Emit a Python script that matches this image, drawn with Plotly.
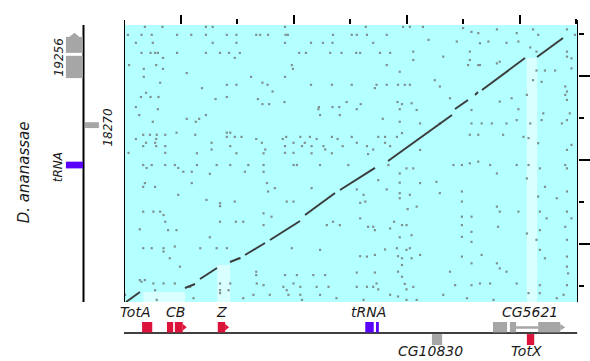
import plotly.graph_objects as go

# ---------------- data ----------------
# x: D. melanogaster region (kb), y: D. ananassae region (kb)
x_major_ticks = [1, 3, 5, 7]
x_minor_ticks = [2, 4, 6, 8]
y_major_ticks = [1, 3, 5]
y_minor_ticks = [0, 2, 4, 6]
x_range = [0, 8.035]
y_range = [-0.381, 6.214]

# diagonal match segments (start x, start y, end x, end y)
diag_segments = [
    (0.035, -0.381, 0.283, -0.143),
    (1.080, -0.048, 1.257, 0.048),
    (1.345, 0.167, 1.646, 0.429),
    (1.876, 0.571, 2.053, 0.667),
    (2.142, 0.738, 2.496, 1.024),
    (2.584, 1.095, 3.115, 1.548),
    (3.204, 1.690, 3.735, 2.214),
    (3.823, 2.286, 4.442, 2.810),
    (4.673, 2.976, 5.805, 4.071),
    (5.858, 4.214, 6.088, 4.429),
    (6.212, 4.548, 6.265, 4.619),
    (6.336, 4.667, 7.097, 5.429),
    (7.310, 5.452, 7.770, 5.905),
]

# scattered short matches (x, y)
noise_dots = [
    (0.37,6.17),(0.68,6.17),(1.45,6.17),(1.57,6.17),(2.85,6.17),(4.28,6.17),(4.94,6.17),
    (0.07,5.98),(0.31,5.98),(0.49,5.98),(0.94,5.98),(1.19,5.98),(1.45,5.98),(1.82,5.98),(1.99,5.98),
    (2.34,5.98),(2.41,5.98),(2.55,5.98),(2.86,5.98),(2.90,5.98),(3.70,5.98),(4.03,5.98),(4.12,5.98),
    (4.30,5.98),(4.65,5.98),
    (0.21,5.79),(0.51,5.79),(1.57,5.79),(1.99,5.79),(2.85,5.79),(3.31,5.79),(3.52,5.79),(3.69,5.79),(4.41,5.79),
    (0.31,5.55),(0.47,5.55),(0.55,5.55),(0.60,5.55),(0.94,5.55),(1.45,5.55),(1.70,5.55),(1.86,5.55),
    (2.05,5.55),(3.10,5.55),(3.22,5.55),(3.65,5.55),(3.85,5.55),(4.11,5.55),(4.18,5.55),(4.53,5.55),(4.71,5.55),
    (0.69,5.43),(1.96,5.43),
    (0.09,5.26),(0.57,5.26),(2.97,5.26),(4.65,5.26),
    (0.35,5.17),(0.69,5.17),(2.99,5.17),
    (1.11,5.07),
    (0.35,4.98),(2.25,4.98),(2.85,4.98),
    (0.64,4.84),(2.45,4.84),
    (1.82,4.79),(1.99,4.79),(2.54,4.79),(3.31,4.79),(3.68,4.79),(4.03,4.79),(4.47,4.79),(4.65,4.79),(4.85,4.79),
    (1.38,4.71),(4.44,4.71),
    (2.63,4.63),(0.39,4.60),
    (0.30,4.50),(0.47,4.50),(0.61,4.50),(1.82,4.50),
    (1.62,4.45),(2.37,4.45),
    (2.84,4.38),(3.94,4.38),(4.84,4.38),
    (2.45,4.33),(2.57,4.33),(4.19,4.33),(4.92,4.33),
    (0.21,4.26),(3.45,4.26),(3.69,4.26),(3.81,4.26),
    (0.60,4.21),(3.44,4.21),(4.12,4.21),(4.88,4.21),
    (0.27,4.07),(1.45,4.07),(3.47,4.07),(3.82,4.07),
    (1.11,3.98),(1.33,3.98),(4.58,3.98),
    (0.51,3.91),(1.27,3.91),
    (0.93,3.65),(1.82,3.65),(1.88,3.65),
    (0.34,3.60),(0.46,3.60),(0.58,3.60),(0.73,3.60),(1.26,3.60),
    (1.82,3.55),(1.96,3.55),(2.08,3.55),(2.87,3.55),(3.12,3.55),(3.29,3.55),(3.68,3.55),(4.03,3.55),
    (4.50,3.55),(4.62,3.55),(4.83,3.55),
    (0.21,3.50),(0.57,3.50),(2.34,3.50),(2.81,3.50),(3.41,3.50),(3.78,3.50),
    (0.39,3.41),(0.55,3.41),(1.55,3.41),(2.44,3.41),(3.00,3.41),(3.20,3.41),(4.12,3.41),(4.62,3.41),
    (0.34,3.33),(0.57,3.33),(0.73,3.33),(1.88,3.33),(2.85,3.33),(3.15,3.33),(3.32,3.33),(3.53,3.33),
    (3.87,3.33),(4.30,3.33),(4.71,3.33),
    (1.55,3.25),(2.50,3.25),(3.56,3.25),(4.41,3.25),
    (0.08,3.17),(0.73,3.17),(1.29,3.16),(1.99,3.16),(2.47,3.16),(2.85,3.17),(3.00,3.17),(3.32,3.16),(3.68,3.16),
    (0.34,2.88),(0.49,2.88),(0.73,2.88),(0.90,2.88),(1.29,2.88),(1.64,2.88),(1.88,2.88),(2.20,2.88),
    (2.47,2.88),(3.00,2.88),(3.06,2.88),(3.47,2.88),(3.97,2.88),
    (0.40,2.81),(0.96,2.81),
    (1.05,2.72),(1.20,2.72),(2.14,2.72),(2.47,2.72),
    (1.52,2.67),
    (0.37,2.45),(1.20,2.45),(2.53,2.45),
    (0.34,2.36),(0.55,2.36),
    (2.67,2.33),(3.32,2.33),
    (2.55,2.25),(0.96,2.17),(1.46,2.05),
    (1.96,2.01),(2.88,2.01),(3.00,2.01),
    (1.70,1.97),(1.70,1.90),
    (0.34,1.77),(0.52,1.77),(0.64,1.77),
    (2.47,1.73),(0.70,1.69),(2.61,1.65),
    (0.73,1.53),(1.70,1.53),(1.98,1.53),(2.11,1.53),(3.70,1.53),
    (2.47,1.45),(3.59,1.45),(3.82,1.45),
    (0.28,1.35),(0.78,1.33),(0.93,1.33),
    (1.52,1.16),(0.90,0.94),
    (0.34,0.90),(0.49,0.90),(0.70,0.90),(1.35,0.90),(1.64,0.90),(1.82,0.90),(2.97,0.90),
    (3.47,0.86),(0.70,0.82),
    (0.81,0.66),(2.05,0.66),
    (0.99,0.46),(2.34,0.34),
    (2.34,0.26),(2.85,0.26),(3.06,0.26),(3.35,0.26),(3.56,0.26),
    (0.28,0.14),(0.37,0.14),(0.31,0.10),
    (0.52,0.06),(0.70,0.06),(0.90,0.06),(1.70,0.06),(1.88,0.06),(2.35,0.06),(3.00,0.06),
    (2.47,0.02),(1.17,-0.02),
    (2.82,-0.02),(3.12,-0.02),(3.41,-0.02),(3.62,-0.02),(4.12,-0.02),(4.30,-0.02),
    (0.55,-0.10),(1.70,-0.10),(1.85,-0.10),(2.88,-0.10),
    (0.02,-0.21),(2.29,-0.21),(2.91,-0.21),(3.12,-0.21),
    (0.58,-0.33),(1.23,-0.29),(1.70,-0.17),(2.11,-0.29),(2.58,-0.21),(3.15,-0.33),(3.47,-0.21),
    (3.76,-0.29),(4.24,-0.33),(4.71,-0.21),(5.18,-0.33),(5.65,-0.21),(6.07,-0.29),(6.54,-0.33),
    (7.16,-0.17),(7.36,-0.17),(7.66,-0.29),(7.78,-0.21),
    (4.32,3.14),(4.68,2.88),(4.50,2.52),(4.12,2.30),(4.65,2.30),(4.24,2.17),(4.18,1.98),(4.27,2.01),
    (5.02,1.83),(4.88,2.68),(4.88,2.46),(4.88,2.21),(4.88,2.09),(5.06,2.17),(4.18,1.61),(4.32,1.41),
    (4.41,1.41),(4.44,1.33),(4.71,1.37),(4.78,1.53),(4.92,1.45),(5.00,1.45),(4.88,1.16),(5.09,1.21),
    (4.62,0.87),(4.83,0.90),(5.00,0.86),(5.06,0.90),(4.18,0.71),(4.30,0.70),(4.44,0.74),(4.85,0.71),
    (4.92,0.66),(5.09,0.66),(4.92,0.50),(4.12,0.32),(4.44,0.32),(4.85,0.34),(4.92,0.22),(4.47,0.06),
    (4.41,-0.02),(4.50,-0.08),(4.97,0.05),(5.12,-0.02),(5.00,-0.08),(4.85,-0.25),(5.00,-0.33),
    (5.06,6.17),(5.29,6.17),(6.00,6.14),(6.60,6.11),(7.24,6.11),(7.84,6.11),(6.15,6.05),(6.27,6.02),
    (6.95,6.02),(7.33,5.98),(7.98,5.98),
    (5.39,5.86),(5.89,5.82),(6.45,5.82),(6.98,5.82),(6.77,5.79),(6.30,5.78),(7.19,5.68),
    (5.12,5.58),(6.12,5.58),(7.30,5.58),(7.84,5.58),(5.65,5.46),(7.84,5.46),(7.92,5.42),
    (5.12,5.38),(6.12,5.38),(6.65,5.34),(6.60,5.30),(6.09,5.26),(6.27,5.26),(6.30,5.26),
    (7.92,5.18),(7.30,5.13),(7.45,5.13),(7.63,5.13),(4.88,5.10),
    (5.50,4.90),(7.24,4.90),(7.39,4.86),(4.97,4.79),(5.06,4.79),(5.59,4.75),(7.81,4.75),
    (7.84,4.63),(7.13,4.55),(7.81,4.55),(5.77,4.47),(6.86,4.47),(7.84,4.43),(6.65,4.39),
    (5.09,4.35),(6.98,4.21),(5.18,4.19),(6.15,4.19),(7.42,4.11),(7.89,4.11),
    (6.95,3.95),(7.39,3.95),(7.84,3.95),(4.88,3.91),
    (5.24,3.87),(5.59,3.87),(6.15,3.87),(6.33,3.87),(6.51,3.87),(6.77,3.87),(7.19,3.87),(7.75,3.87),
    (4.92,3.64),(6.12,3.60),(6.27,3.60),(6.71,3.60),(7.07,3.55),(7.16,3.52),(7.33,3.40),(7.92,3.36),
    (5.24,3.24),(7.84,3.24),(6.27,2.96),(6.12,2.92),
    (5.83,2.88),(5.98,2.88),(6.48,2.88),(6.95,2.88),(7.16,2.88),(7.81,2.88),
    (5.00,2.80),(5.12,2.80),(7.36,2.80),(7.84,2.80),
    (6.60,2.68),(7.13,2.56),(5.53,2.48),(5.24,2.45),(7.45,2.36),
    (5.98,2.25),(7.84,2.25),(5.59,2.21),(7.33,2.13),(7.66,2.09),(5.98,2.01),
    (5.18,1.89),(6.60,1.89),(6.65,1.77),(6.98,1.77),(7.36,1.77),(7.84,1.77),
    (5.98,1.65),(6.15,1.65),(7.48,1.61),(7.92,1.61),
    (5.98,1.45),(6.62,1.41),(7.81,1.41),(7.36,1.33),(6.15,1.29),(7.13,1.25),(5.98,1.17),
    (7.30,1.10),(7.84,1.10),(6.15,1.05),(7.36,0.86),(5.24,0.74),(6.33,0.74),(5.98,0.70),(7.84,0.70),
    (7.45,0.66),(6.15,0.54),(6.60,0.54),(7.84,0.46),(6.65,0.42),(5.77,0.34),(6.77,0.34),(7.86,0.30),
    (6.30,0.06),(6.48,0.06),(6.95,0.06),(5.86,0.02),(6.15,0.02),(7.36,0.02),(7.84,0.02),
]

# masked (unaligned) columns: x0, x1, y top
masked_columns = [
    (0.34, 1.08, -0.14),
    (1.65, 1.88, 0.50),
    (7.13, 7.31, 5.43),
]

# gene models on the x sequence: (name, start, end, lane, colour key, arrow tip or None)
x_exons = [
    ("TotA", 0.32, 0.50, 1, "red", None),
    ("CB", 0.76, 0.87, 1, "red", None),
    ("CB", 0.90, 1.04, 1, "red", 1.11),
    ("Z", 1.66, 1.79, 1, "red", 1.86),
    ("tRNA", 4.27, 4.42, 1, "blue", None),
    ("tRNA", 4.46, 4.51, 1, "blue", None),
    ("CG5621", 6.53, 6.78, 1, "grey", None),
    ("CG5621", 6.83, 6.94, 1, "grey", None),
    ("CG5621", 7.33, 7.72, 1, "grey", 7.81),
    ("CG10830", 5.45, 5.63, -1, "grey", None),
    ("TotX", 7.13, 7.26, -1, "red", None),
]
x_introns = [(6.94, 7.33, 1)]
x_labels = ["TotA", "CB", "Z", "tRNA", "CG5621", "CG10830", "TotX"]
x_label_pos = [0.19, 0.92, 1.73, 4.32, 7.19, 5.42, 7.13]
x_label_lane = [1, 1, 1, 1, 1, -1, -1]

# gene models on the y sequence: (name, start, end, side, colour key, arrow tip or None)
y_exons = [
    ("19256", 4.95, 5.48, -1, "grey", None),
    ("19256", 5.55, 5.93, -1, "grey", 6.03),
    ("18270", 3.76, 3.90, 1, "grey", None),
    ("tRNA", 2.80, 2.96, -1, "blue", None),
]
y_labels = ["19256", "18270", "tRNA"]
y_label_pos = [5.45, 3.79, 2.83]
y_label_side = [-2.2, 2.2, -2.3]
species_label = "D. ananassae"

colours = {"red": "#dc143c", "blue": "#5a00ff", "grey": "#a6a6a6"}

# ---------------- figure ----------------
W, H = 590, 361
xd = [124 / W, 578 / W]
yd = [59 / H, 336 / H]

fig = go.Figure()

dx, dy = [], []
for x0, y0, x1, y1 in diag_segments:
    dx += [x0, x1, None]
    dy += [y0, y1, None]

fig.add_trace(go.Scatter(
    x=[p[0] for p in noise_dots], y=[p[1] for p in noise_dots],
    mode="markers", marker=dict(symbol="square", size=2.2, color="#7f9090", line=dict(width=0)),
    xaxis="x", yaxis="y", hoverinfo="skip", showlegend=False))
fig.add_trace(go.Scatter(
    x=dx, y=dy, mode="lines", line=dict(color="#3c3c3c", width=2),
    xaxis="x", yaxis="y", hoverinfo="skip", showlegend=False))

shapes = []
# background of dot plot
shapes.append(dict(type="rect", xref="x domain", yref="y domain", x0=0, x1=1, y0=0, y1=1,
                   fillcolor="#b4ffff", line=dict(width=0), layer="below"))
for x0, x1, ytop in masked_columns:
    shapes.append(dict(type="rect", xref="x", yref="y", x0=x0, x1=x1, y0=y_range[0], y1=ytop,
                       fillcolor="#d9ffff", line=dict(width=0), layer="below"))
# side frame lines
for xv in x_range:
    shapes.append(dict(type="line", xref="x", yref="paper", x0=xv, x1=xv,
                       y0=(H - 302) / H, y1=(H - 20) / H, line=dict(color="black", width=2)))

# bottom gene track
shapes.append(dict(type="line", xref="x2", yref="y2", x0=-0.02, x1=8.02, y0=0, y1=0,
                   line=dict(color="black", width=1.6)))
for name, s, e, lane, ck, tip in x_exons:
    if lane > 0:
        lo, hi = 0.05, 1.0
    else:
        lo, hi = -1.1, -0.1
    c = colours[ck]
    shapes.append(dict(type="rect", xref="x2", yref="y2", x0=s, x1=e, y0=lo, y1=hi,
                       fillcolor=c, line=dict(width=0)))
    if tip is not None:
        mid = (lo + hi) / 2
        h = (hi - lo) * 0.32
        shapes.append(dict(type="path", xref="x2", yref="y2",
                           path=f"M {e},{mid - h} L {tip},{mid} L {e},{mid + h} Z",
                           fillcolor=c, line=dict(width=0)))
for s, e, lane in x_introns:
    shapes.append(dict(type="line", xref="x2", yref="y2", x0=s, x1=e, y0=0.5, y1=0.5,
                       line=dict(color=colours["grey"], width=2.5)))

# left gene track
shapes.append(dict(type="line", xref="x3", yref="y3", x0=0, x1=0, y0=y_range[0], y1=y_range[1],
                   line=dict(color="black", width=2)))
for name, s, e, side, ck, tip in y_exons:
    if side < 0:
        lo, hi = -1.6, -0.05
    else:
        lo, hi = 0.14, 1.4
    c = colours[ck]
    shapes.append(dict(type="rect", xref="x3", yref="y3", x0=lo, x1=hi, y0=s, y1=e,
                       fillcolor=c, line=dict(width=0)))
    if tip is not None:
        mid = (lo + hi) / 2
        w = (hi - lo) * 0.3
        shapes.append(dict(type="path", xref="x3", yref="y3",
                           path=f"M {mid - w},{e} L {mid},{tip} L {mid + w},{e} Z",
                           fillcolor=c, line=dict(width=0)))

annotations = []
font_lbl = dict(family="DejaVu Sans", size=14, color="#1a1a1a", style="italic")
for t, xp, lane in zip(x_labels, x_label_pos, x_label_lane):
    annotations.append(dict(text=t, x=xp, y=1.9 if lane > 0 else -1.6, xref="x2", yref="y2",
                            showarrow=False, font=font_lbl, xanchor="center", yanchor="middle"))
font_small = dict(family="DejaVu Sans", size=12, color="#1a1a1a", style="italic")
for t, yp, sx in zip(y_labels, y_label_pos, y_label_side):
    annotations.append(dict(text=t, x=sx, y=yp, xref="x3", yref="y3", textangle=-90,
                            showarrow=False, font=font_small, xanchor="center", yanchor="middle"))
annotations.append(dict(text=species_label, x=-5.4, y=2.71, xref="x3", yref="y3", textangle=-90,
                        showarrow=False, font=dict(family="DejaVu Sans", size=15, color="#1a1a1a",
                                                   style="italic"),
                        xanchor="center", yanchor="middle"))

fig.update_layout(
    width=W, height=H, margin=dict(l=0, r=0, t=0, b=0),
    paper_bgcolor="white", plot_bgcolor="white",
    showlegend=False,
    shapes=shapes, annotations=annotations,
    xaxis=dict(domain=xd, range=x_range, side="top", anchor="y",
               tickmode="array", tickvals=x_major_ticks, ticks="outside", ticklen=9, tickwidth=2,
               tickcolor="black", showticklabels=False, showgrid=False, zeroline=False, showline=False,
               minor=dict(tickmode="array", tickvals=x_minor_ticks, ticks="outside", ticklen=5,
                          tickwidth=2, tickcolor="black", showgrid=False)),
    yaxis=dict(domain=yd, range=y_range, side="right", anchor="x",
               tickmode="array", tickvals=y_major_ticks, ticks="outside", ticklen=12, tickwidth=2,
               tickcolor="black", showticklabels=False, showgrid=False, zeroline=False, showline=False,
               minor=dict(tickmode="array", tickvals=y_minor_ticks, ticks="outside", ticklen=5,
                          tickwidth=2, tickcolor="black", showgrid=False)),
    xaxis2=dict(domain=xd, range=x_range, anchor="y2", visible=False),
    yaxis2=dict(domain=[0, yd[0]], range=[-2.55, 2.82], anchor="x2", visible=False),
    xaxis3=dict(domain=[0, xd[0]], range=[-7.59, 3.68], anchor="y3", visible=False),
    yaxis3=dict(domain=yd, range=y_range, anchor="x3", visible=False),
)

fig.write_html("out.html")
